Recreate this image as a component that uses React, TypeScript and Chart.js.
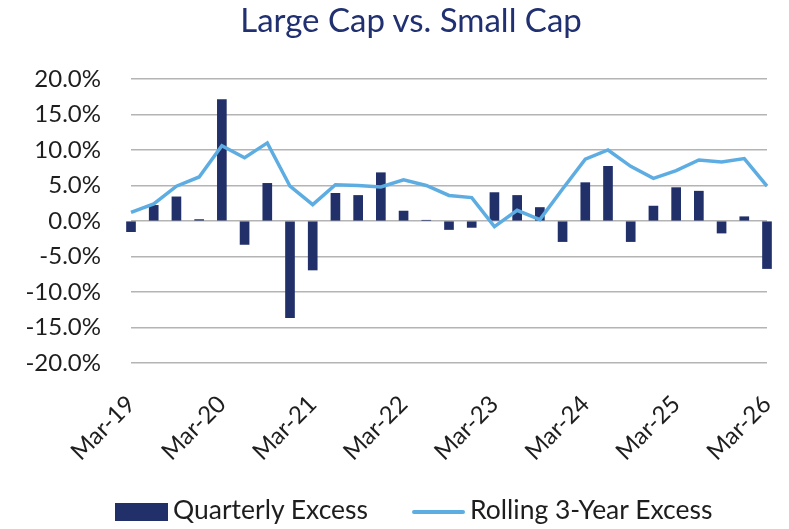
import React, { useEffect, useRef } from 'react';
import { Chart, registerables } from 'chart.js';

Chart.register(...registerables);

const categories = [
  'Mar-19', 'Jun-19', 'Sep-19', 'Dec-19',
  'Mar-20', 'Jun-20', 'Sep-20', 'Dec-20',
  'Mar-21', 'Jun-21', 'Sep-21', 'Dec-21',
  'Mar-22', 'Jun-22', 'Sep-22', 'Dec-22',
  'Mar-23', 'Jun-23', 'Sep-23', 'Dec-23',
  'Mar-24', 'Jun-24', 'Sep-24', 'Dec-24',
  'Mar-25', 'Jun-25', 'Sep-25', 'Dec-25',
  'Mar-26',
];

const quarterlyExcess = [
  -1.5, 2.2, 3.4, 0.2,
  17.1, -3.3, 5.3, -13.6,
  -6.9, 3.9, 3.6, 6.8,
  1.4, 0.1, -1.2, -0.9,
  4.0, 3.6, 1.9, -2.9,
  5.4, 7.7, -2.9, 2.1,
  4.7, 4.2, -1.7, 0.6,
  -6.7,
];

const rolling3YearExcess = [
  1.2, 2.4, 4.9, 6.2,
  10.6, 8.9, 11.0, 4.9,
  2.3, 5.1, 5.0, 4.8,
  5.8, 5.0, 3.6, 3.3,
  -0.8, 1.5, 0.2, 4.5,
  8.7, 10.0, 7.7, 6.0,
  7.1, 8.6, 8.3, 8.8,
  4.9,
];

const yMin = -20;
const yMax = 20;
const yStep = 5;

const titleText = 'Large Cap vs. Small Cap';
const seriesNames = ['Quarterly Excess', 'Rolling 3-Year Excess'];

const BAR_COLOR = '#213069';
const LINE_COLOR = '#5DADE2';
const TEXT_COLOR = '#1e1e1e';
const TITLE_COLOR = '#203070';
const FONT = 'Lato, "Open Sans", sans-serif';

export default function App() {
  const canvasRef = useRef<HTMLCanvasElement | null>(null);

  useEffect(() => {
    const canvas = canvasRef.current;
    if (!canvas) return;
    const chart = new Chart(canvas, {
      data: {
        labels: categories,
        datasets: [
          {
            type: 'line',
            label: seriesNames[1],
            data: rolling3YearExcess,
            borderColor: LINE_COLOR,
            backgroundColor: LINE_COLOR,
            borderWidth: 3.5,
            pointRadius: 0,
            tension: 0,
            order: 0,
            clip: false,
          } as any,
          {
            type: 'bar',
            label: seriesNames[0],
            data: quarterlyExcess,
            backgroundColor: BAR_COLOR,
            borderWidth: 0,
            barThickness: 9,
            order: 1,
            clip: false,
          } as any,
        ],
      },
      options: {
        responsive: false,
        animation: false,
        layout: { padding: { left: 0, right: 22, top: 79, bottom: 0 } },
        plugins: {
          legend: { display: false },
          tooltip: { enabled: false },
          title: { display: false },
        },
        scales: {
          x: {
            type: 'category',
            offset: false,
            grid: { display: false, drawTicks: false },
            border: { display: false },
            ticks: {
              autoSkip: false,
              maxRotation: 45,
              minRotation: 45,
              padding: 27,
              color: TEXT_COLOR,
              font: { family: FONT, size: 24 },
              callback: (_v: any, i: number) => (i % 4 === 0 ? categories[i] : ''),
            },
            afterFit: (scale: any) => {
              scale.height = 529 - 363;
              scale.paddingRight = 0;
              scale.paddingLeft = 0;
            },
          },
          y: {
            min: yMin,
            max: yMax,
            grid: { color: '#B4B4B4', lineWidth: 1.5, drawTicks: false },
            border: { display: false },
            ticks: {
              stepSize: yStep,
              padding: 30,
              color: TEXT_COLOR,
              font: { family: FONT, size: 24 },
              callback: (v: any) => Number(v).toFixed(1) + '%',
            },
            afterFit: (scale: any) => {
              scale.width = 131;
              scale.paddingTop = 0;
              scale.paddingBottom = 0;
            },
          },
        },
      },
    });
    return () => chart.destroy();
  }, []);

  const legendText: React.CSSProperties = {
    position: 'absolute',
    top: 494,
    fontFamily: FONT,
    fontSize: 26.5,
    lineHeight: 1.2,
    color: TEXT_COLOR,
    whiteSpace: 'nowrap',
  };

  return (
    <div style={{ position: 'absolute', left: 0, top: 0, width: 789, height: 529, background: '#fff' }}>
      <canvas ref={canvasRef} width={789} height={529} style={{ width: 789, height: 529, display: 'block' }} />
      <div
        style={{
          position: 'absolute',
          left: 211,
          top: 0,
          width: 400,
          textAlign: 'center',
          fontFamily: FONT,
          fontSize: 33,
          lineHeight: 1.2,
          color: TITLE_COLOR,
          whiteSpace: 'nowrap',
        }}
      >
        {titleText}
      </div>
      <div style={{ position: 'absolute', left: 115, top: 503, width: 53, height: 18, background: BAR_COLOR }} />
      <div style={{ ...legendText, left: 173 }}>{seriesNames[0]}</div>
      <div style={{ position: 'absolute', left: 412, top: 510, width: 53, height: 4, background: LINE_COLOR, borderRadius: 2 }} />
      <div style={{ ...legendText, left: 470 }}>{seriesNames[1]}</div>
    </div>
  );
}
